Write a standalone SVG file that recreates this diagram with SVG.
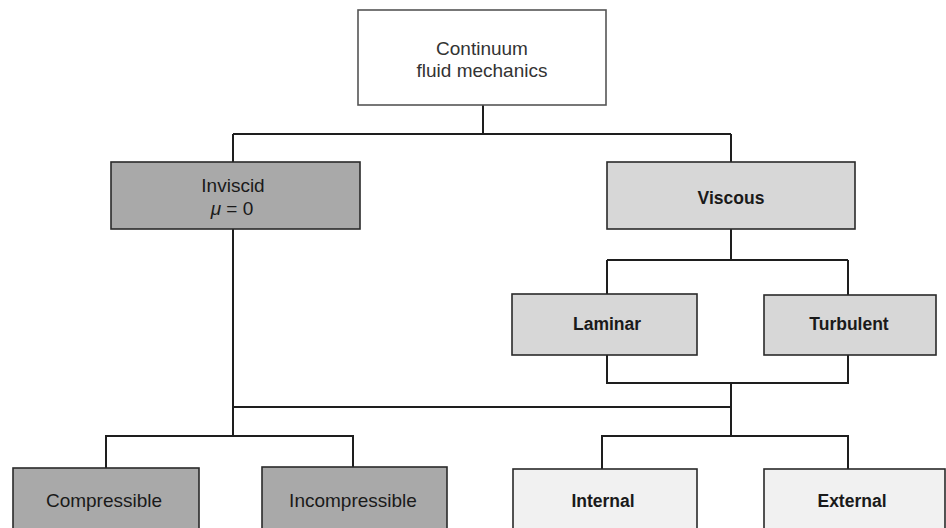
<svg xmlns="http://www.w3.org/2000/svg" width="946" height="528" viewBox="0 0 946 528">
<style>
.box{stroke:#2a2a2a;stroke-width:1.6}
.white{fill:#ffffff;stroke:#555}
.dark{fill:#a9a9a9}
.mid{fill:#d7d7d7}
.light{fill:#f1f1f1}
.t{font-family:"Liberation Sans",Arial,sans-serif;font-size:19px;fill:#1a1a1a;text-anchor:middle}
.b{font-weight:bold;font-size:17.5px}
.top{fill:#333}
#connectors path{fill:none;stroke:#1e1e1e;stroke-width:2}
</style>
<rect width="946" height="528" fill="#ffffff"/>
<g id="connectors">
<path d="M483 105V134M233 134H731M233 134V162M731 134V162"/>
<path d="M731 229V260M607 260H848M607 260V294M848 260V295"/>
<path d="M607 355V383H848V355M731 383V436"/>
<path d="M233 229V436M233 407H731"/>
<path d="M106 468V436H353V467"/>
<path d="M602 469V436H848V469"/>
</g>
<g id="continuum">
<rect class="box white" x="358" y="10" width="248" height="95"/>
<text class="t top" x="482" y="55">Continuum</text>
<text class="t top" x="482" y="77">fluid mechanics</text>
</g>
<g id="inviscid">
<rect class="box dark" x="111" y="162" width="249" height="67"/>
<text class="t" x="233" y="192">Inviscid</text>
<text class="t" x="232" y="215"><tspan font-style="italic">μ</tspan> = 0</text>
</g>
<g id="viscous">
<rect class="box mid" x="607" y="162" width="248" height="67"/>
<text class="t b" x="731" y="204">Viscous</text>
</g>
<g id="laminar">
<rect class="box mid" x="512" y="294" width="185" height="61"/>
<text class="t b" x="607" y="330">Laminar</text>
</g>
<g id="turbulent">
<rect class="box mid" x="764" y="295" width="172" height="60"/>
<text class="t b" x="849" y="330">Turbulent</text>
</g>
<g id="compressible">
<rect class="box dark" x="13" y="468" width="186" height="70"/>
<text class="t" x="104" y="507">Compressible</text>
</g>
<g id="incompressible">
<rect class="box dark" x="262" y="467" width="185" height="71"/>
<text class="t" x="353" y="507">Incompressible</text>
</g>
<g id="internal">
<rect class="box light" x="513" y="469" width="184" height="69"/>
<text class="t b" x="603" y="507">Internal</text>
</g>
<g id="external">
<rect class="box light" x="764" y="469" width="181" height="69"/>
<text class="t b" x="852" y="507">External</text>
</g>
</svg>
